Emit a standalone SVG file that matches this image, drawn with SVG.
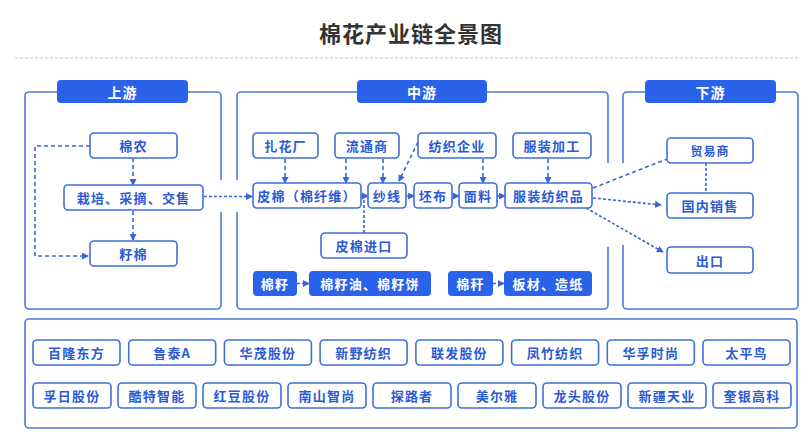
<svg xmlns="http://www.w3.org/2000/svg" width="810" height="443" viewBox="0 0 810 443">
<defs>
<style>
text{font-family:"Noto Sans CJK SC","Noto Sans",sans-serif;font-weight:700;text-anchor:middle;dominant-baseline:central}
.title{font-size:22px;fill:#333;letter-spacing:1px}
.panel{fill:none;stroke:#4a78dc;stroke-width:1.6}
.tab{fill:#2a62ea}
.tabt{fill:#fff;font-size:14px;letter-spacing:1px}
.box{fill:#fff;stroke:#3f6fd9;stroke-width:1.6}
.fbox{fill:#2a62ea}
.t{fill:#2a5ad4;font-size:13px;letter-spacing:1.2px}
.ts{fill:#2a5ad4;font-size:12px;letter-spacing:1px}
.ft{fill:#fff;font-size:13px;letter-spacing:1.2px}
.c{fill:none;stroke:#3a66d6;stroke-width:1.6;stroke-dasharray:4 3}
.c2{fill:none;stroke:#3a66d6;stroke-width:1.6;stroke-dasharray:3 2}
</style>
<marker id="ah" markerWidth="7" markerHeight="7" refX="6" refY="3.5" orient="auto" markerUnits="userSpaceOnUse">
<path d="M0,0 L7,3.5 L0,7 z" fill="#3a66d6"/>
</marker>
</defs>
<rect width="810" height="443" fill="#fff"/>
<text class="title" x="411" y="32">棉花产业链全景图</text>
<line x1="15" y1="58" x2="800" y2="58" stroke="#c8c8c8" stroke-width="1" stroke-dasharray="3 2"/>

<g id="panel-up">
<path class="panel" d="M221,180 V96 A4,4 0 0 0 217,92 H29 A4,4 0 0 0 25,96 V305 A4,4 0 0 0 29,309 H217 A4,4 0 0 0 221,305 V212"/>
<rect class="tab" x="57" y="80" width="131" height="23" rx="4"/>
<text class="tabt" x="122.5" y="91.5">上游</text>
</g>
<g id="panel-mid">
<path class="panel" d="M237,180 V96 A4,4 0 0 1 241,92 H604 A4,4 0 0 1 608,96 V163"/>
<path class="panel" d="M608,247 V305 A4,4 0 0 1 604,309 H241 A4,4 0 0 1 237,305 V212"/>
<rect class="tab" x="357" y="80" width="130" height="23" rx="4"/>
<text class="tabt" x="422" y="91.5">中游</text>
</g>
<g id="panel-down">
<path class="panel" d="M623,163 V96 A4,4 0 0 1 627,92 H794 A4,4 0 0 1 798,96 V305 A4,4 0 0 1 794,309 H627 A4,4 0 0 1 623,305 V245"/>
<rect class="tab" x="645" y="80" width="131" height="23" rx="4"/>
<text class="tabt" x="710.5" y="91.5">下游</text>
</g>

<g id="connectors">
<path class="c" d="M90,146 H35 V256 H88" marker-end="url(#ah)"/>
<path class="c" d="M133,158 V185" marker-end="url(#ah)"/>
<path class="c" d="M133,211 V240" marker-end="url(#ah)"/>
<path class="c2" d="M204,196.5 H252" marker-end="url(#ah)"/>
<path class="c" d="M285,159 V183" marker-end="url(#ah)"/>
<path class="c" d="M346,159 V183" marker-end="url(#ah)"/>
<path class="c" d="M383,159 V183" marker-end="url(#ah)"/>
<path class="c" d="M418,142 L399,181" marker-end="url(#ah)"/>
<path class="c" d="M483,159 V183" marker-end="url(#ah)"/>
<path class="c" d="M548,159 V183" marker-end="url(#ah)"/>
<path class="c2" d="M364,233 V197"/>
<path class="c2" d="M361,196 H368" marker-end="url(#ah)"/>
<path class="c2" d="M406,196 H414" marker-end="url(#ah)"/>
<path class="c2" d="M452,196 H459" marker-end="url(#ah)"/>
<path class="c2" d="M497,196 H505" marker-end="url(#ah)"/>
<path class="c2" d="M297,283.5 H309" marker-end="url(#ah)"/>
<path class="c2" d="M493,283.5 H504" marker-end="url(#ah)"/>
<path class="c" d="M593,188 L667,159"/>
<path class="c2" d="M593,198 L661,205" marker-end="url(#ah)"/>
<path class="c2" d="M586,208 L663,252" marker-end="url(#ah)"/>
<path class="c2" d="M706,163 V193"/>
</g>

<g id="n-mianong"><rect class="box" x="90" y="133" width="87" height="25" rx="4"/><text class="t" x="133.5" y="145.5">棉农</text></g>
<g id="n-zaipei"><rect class="box" x="64" y="185" width="139" height="25" rx="4"/><text class="t" x="133.5" y="197.5">栽培、采摘、交售</text></g>
<g id="n-zimian"><rect class="box" x="90" y="241" width="87" height="25" rx="4"/><text class="t" x="133.5" y="253.5">籽棉</text></g>

<g id="n-zhahuachang"><rect class="box" x="253" y="133" width="65" height="25" rx="4"/><text class="t" x="285.5" y="145.5">扎花厂</text></g>
<g id="n-liutongshang"><rect class="box" x="335" y="133" width="64" height="25" rx="4"/><text class="t" x="367" y="145.5">流通商</text></g>
<g id="n-fangzhiqiye"><rect class="box" x="418" y="133" width="78" height="25" rx="4"/><text class="t" x="457" y="145.5">纺织企业</text></g>
<g id="n-fuzhuangjiagong"><rect class="box" x="513" y="133" width="78" height="25" rx="4"/><text class="t" x="552" y="145.5">服装加工</text></g>
<g id="n-pimian"><rect class="box" x="253" y="183" width="108" height="25" rx="4"/><text class="t" x="307" y="195.5">皮棉（棉纤维）</text></g>
<g id="n-shaxian"><rect class="box" x="368" y="183" width="38" height="25" rx="4"/><text class="t" x="387" y="195.5">纱线</text></g>
<g id="n-pibu"><rect class="box" x="414" y="183" width="38" height="25" rx="4"/><text class="t" x="433" y="195.5">坯布</text></g>
<g id="n-mianliao"><rect class="box" x="459" y="183" width="38" height="25" rx="4"/><text class="t" x="478" y="195.5">面料</text></g>
<g id="n-fuzhuangfangzhipin"><rect class="box" x="505" y="183" width="87" height="25" rx="4"/><text class="t" x="548.5" y="195.5">服装纺织品</text></g>
<g id="n-pimianjinkou"><rect class="box" x="321" y="233" width="86" height="25" rx="4"/><text class="t" x="364" y="245.5">皮棉进口</text></g>
<g id="n-mianzi"><rect class="fbox" x="253" y="271" width="44" height="25" rx="4"/><text class="ft" x="275" y="283.5">棉籽</text></g>
<g id="n-mianziyou"><rect class="fbox" x="309" y="271" width="122" height="25" rx="4"/><text class="ft" x="370" y="283.5">棉籽油、棉籽饼</text></g>
<g id="n-miangan"><rect class="fbox" x="448" y="271" width="45" height="25" rx="4"/><text class="ft" x="470.5" y="283.5">棉秆</text></g>
<g id="n-bancai"><rect class="fbox" x="504" y="271" width="88" height="25" rx="4"/><text class="ft" x="548" y="283.5">板材、造纸</text></g>

<g id="n-maoyishang"><rect class="box" x="667" y="138" width="86" height="25" rx="4"/><text class="ts" x="710" y="150.5">贸易商</text></g>
<g id="n-guoneixiaoshou"><rect class="box" x="667" y="193" width="86" height="25" rx="4"/><text class="t" x="710" y="205.5">国内销售</text></g>
<g id="n-chukou"><rect class="box" x="667" y="247" width="86" height="26" rx="4"/><text class="t" x="710" y="260">出口</text></g>

<g id="panel-companies">
<rect class="panel" x="25" y="319" width="772" height="109" rx="4"/>
</g>
<g id="companies-row1">
<g id="c1"><rect class="box" x="33" y="340" width="87" height="25" rx="4"/><text class="t" x="76.5" y="352.5">百隆东方</text></g>
<g id="c2"><rect class="box" x="128.7" y="340" width="87" height="25" rx="4"/><text class="t" x="172.2" y="352.5">鲁泰A</text></g>
<g id="c3"><rect class="box" x="224.4" y="340" width="87" height="25" rx="4"/><text class="t" x="267.9" y="352.5">华茂股份</text></g>
<g id="c4"><rect class="box" x="320.1" y="340" width="87" height="25" rx="4"/><text class="t" x="363.6" y="352.5">新野纺织</text></g>
<g id="c5"><rect class="box" x="415.9" y="340" width="87" height="25" rx="4"/><text class="t" x="459.4" y="352.5">联发股份</text></g>
<g id="c6"><rect class="box" x="511.6" y="340" width="87" height="25" rx="4"/><text class="t" x="555.1" y="352.5">凤竹纺织</text></g>
<g id="c7"><rect class="box" x="607.3" y="340" width="87" height="25" rx="4"/><text class="t" x="650.8" y="352.5">华孚时尚</text></g>
<g id="c8"><rect class="box" x="703" y="340" width="87" height="25" rx="4"/><text class="t" x="746.5" y="352.5">太平鸟</text></g>
</g>
<g id="companies-row2">
<g id="c9"><rect class="box" x="33" y="383" width="78" height="25" rx="4"/><text class="t" x="72" y="395.5">孚日股份</text></g>
<g id="c10"><rect class="box" x="118" y="383" width="78" height="25" rx="4"/><text class="t" x="157" y="395.5">酷特智能</text></g>
<g id="c11"><rect class="box" x="203" y="383" width="78" height="25" rx="4"/><text class="t" x="242" y="395.5">红豆股份</text></g>
<g id="c12"><rect class="box" x="288" y="383" width="78" height="25" rx="4"/><text class="t" x="327" y="395.5">南山智尚</text></g>
<g id="c13"><rect class="box" x="373" y="383" width="78" height="25" rx="4"/><text class="t" x="412" y="395.5">探路者</text></g>
<g id="c14"><rect class="box" x="458" y="383" width="78" height="25" rx="4"/><text class="t" x="497" y="395.5">美尔雅</text></g>
<g id="c15"><rect class="box" x="543" y="383" width="78" height="25" rx="4"/><text class="t" x="582" y="395.5">龙头股份</text></g>
<g id="c16"><rect class="box" x="628" y="383" width="78" height="25" rx="4"/><text class="t" x="667" y="395.5">新疆天业</text></g>
<g id="c17"><rect class="box" x="713" y="383" width="78" height="25" rx="4"/><text class="t" x="752" y="395.5">奎银高科</text></g>
</g>
</svg>
